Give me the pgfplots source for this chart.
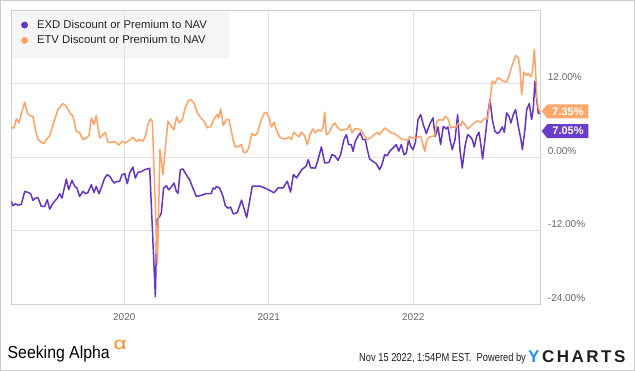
\documentclass[border=0pt]{standalone}
\usepackage{fontspec}
\setmainfont{Liberation Sans}
\usepackage{pgfplots}
\pgfplotsset{compat=1.18}
\definecolor{exd}{HTML}{6234C7}
\definecolor{etv}{HTML}{FFA263}
\definecolor{exdtag}{HTML}{6A3DCB}
\definecolor{etvtag}{HTML}{FFA86B}
\definecolor{gridc}{HTML}{E3E3E3}
\definecolor{tickc}{HTML}{666666}
\definecolor{legbg}{HTML}{F5F5F5}
\definecolor{ychblue}{HTML}{1F8FFF}
\definecolor{saorange}{HTML}{FF8A1A}

\pgfplotstableread{
x y
2019.218 -7.26
2019.230 -7.96
2019.246 -7.64
2019.264 -7.85
2019.287 -7.75
2019.311 -5.62
2019.334 -5.78
2019.352 -6.00
2019.368 -7.09
2019.384 -6.71
2019.403 -6.66
2019.426 -8.07
2019.449 -8.07
2019.467 -6.98
2019.484 -8.51
2019.507 -7.53
2019.537 -6.71
2019.553 -6.00
2019.569 -6.71
2019.599 -3.60
2019.615 -5.35
2019.638 -3.82
2019.657 -4.80
2019.673 -5.07
2019.691 -6.44
2019.714 -5.62
2019.733 -6.00
2019.749 -5.78
2019.772 -4.53
2019.790 -5.78
2019.806 -4.80
2019.825 -6.00
2019.848 -4.53
2019.864 -3.44
2019.883 -2.89
2019.899 -3.16
2019.929 -4.25
2019.952 -3.98
2019.968 -3.98
2019.984 -2.89
2020.003 -2.73
2020.021 -4.36
2020.037 -2.62
2020.060 -1.64
2020.076 -3.44
2020.095 -2.51
2020.118 -2.40
2020.141 -2.07
2020.159 -1.96
2020.176 -1.85
2020.215 -22.80
2020.226 -10.26
2020.245 -9.71
2020.256 -9.16
2020.272 -5.07
2020.291 -4.69
2020.307 -5.35
2020.325 -4.91
2020.344 -4.25
2020.360 -5.62
2020.372 -5.89
2020.388 -2.07
2020.406 -1.96
2020.429 -2.89
2020.452 -3.71
2020.475 -5.07
2020.498 -6.44
2020.522 -6.33
2020.545 -6.16
2020.563 -6.00
2020.579 -6.00
2020.602 -6.00
2020.614 -5.07
2020.625 -5.24
2020.639 -4.80
2020.660 -5.07
2020.683 -6.44
2020.699 -7.96
2020.718 -8.35
2020.736 -8.18
2020.754 -9.30
2020.782 -9.08
2020.812 -7.03
2020.847 -9.90
2020.886 -4.76
2020.939 -4.76
2020.985 -5.19
2021.036 -5.84
2021.066 -5.03
2021.100 -5.03
2021.128 -3.95
2021.151 -5.73
2021.170 -2.87
2021.193 -3.41
2021.228 -2.06
2021.258 -1.52
2021.273 -0.44
2021.290 -1.79
2021.322 -1.80
2021.340 -0.55
2021.364 1.64
2021.387 -0.98
2021.417 -0.87
2021.437 0.38
2021.456 0.22
2021.479 -0.55
2021.497 0.38
2021.520 2.84
2021.537 3.65
2021.553 2.02
2021.571 2.02
2021.583 0.93
2021.599 2.56
2021.617 3.38
2021.633 3.93
2021.652 2.84
2021.668 2.84
2021.682 1.20
2021.698 -0.33
2021.721 -0.71
2021.744 -1.09
2021.767 -2.07
2021.783 -1.25
2021.802 0.38
2021.820 0.22
2021.837 0.93
2021.860 1.47
2021.883 2.02
2021.899 0.93
2021.917 2.02
2021.936 0.38
2021.952 0.65
2021.968 2.84
2021.982 1.75
2021.998 1.20
2022.014 2.29
2022.033 6.11
2022.051 6.93
2022.069 5.29
2022.090 3.82
2022.113 5.29
2022.136 6.38
2022.152 3.38
2022.171 4.91
2022.189 2.02
2022.208 5.02
2022.229 4.58
2022.240 4.91
2022.254 2.84
2022.270 1.20
2022.289 2.84
2022.307 6.93
2022.323 1.20
2022.339 -1.80
2022.358 1.75
2022.376 3.65
2022.392 3.38
2022.409 2.84
2022.422 1.64
2022.439 3.38
2022.455 4.04
2022.469 1.75
2022.480 -0.33
2022.496 2.84
2022.515 6.93
2022.531 9.38
2022.547 6.11
2022.565 4.20
2022.584 3.82
2022.600 4.20
2022.616 4.91
2022.630 4.04
2022.646 7.20
2022.662 6.65
2022.676 5.56
2022.692 6.93
2022.708 7.75
2022.727 5.02
2022.745 2.84
2022.755 1.20
2022.773 4.58
2022.785 7.75
2022.803 8.73
2022.819 6.11
2022.831 8.02
2022.842 12.38
2022.854 9.38
2022.865 7.20
2022.877 7.05
}\exdtable

\pgfplotstableread{
x y
2019.218 4.75
2019.237 4.75
2019.253 6.22
2019.271 5.56
2019.292 7.47
2019.311 8.95
2019.329 7.20
2019.345 6.76
2019.368 6.65
2019.387 4.20
2019.403 2.84
2019.426 2.40
2019.444 2.18
2019.460 2.84
2019.484 3.49
2019.507 5.29
2019.541 7.75
2019.576 8.73
2019.599 8.29
2019.622 7.20
2019.645 6.65
2019.668 4.20
2019.691 3.93
2019.714 2.84
2019.737 3.11
2019.756 3.49
2019.772 6.38
2019.790 5.29
2019.806 6.76
2019.830 3.11
2019.853 3.65
2019.869 4.04
2019.887 2.40
2019.910 2.40
2019.934 2.51
2019.963 1.96
2019.986 2.56
2020.003 2.29
2020.026 2.56
2020.060 3.22
2020.083 2.56
2020.106 2.84
2020.129 2.56
2020.146 3.38
2020.164 5.29
2020.180 6.22
2020.194 5.84
2020.229 -17.46
2020.238 -8.62
2020.247 1.20
2020.256 -0.44
2020.268 -2.89
2020.279 0.11
2020.302 5.84
2020.325 5.02
2020.344 4.47
2020.362 6.55
2020.379 5.56
2020.402 6.11
2020.418 7.75
2020.441 9.11
2020.459 9.38
2020.482 8.84
2020.505 7.20
2020.529 6.38
2020.552 5.84
2020.575 4.75
2020.598 5.02
2020.625 6.38
2020.644 6.93
2020.653 6.38
2020.667 7.86
2020.685 5.13
2020.706 6.11
2020.725 6.11
2020.752 2.90
2020.768 1.64
2020.787 1.64
2020.810 2.02
2020.826 0.76
2020.845 0.76
2020.861 1.47
2020.884 3.82
2020.902 3.49
2020.921 3.93
2020.944 5.84
2020.967 7.09
2020.983 7.31
2020.999 6.65
2021.018 4.91
2021.036 5.67
2021.052 4.47
2021.075 3.27
2021.098 2.95
2021.121 2.95
2021.138 3.27
2021.156 2.84
2021.172 4.04
2021.191 3.65
2021.209 3.27
2021.225 4.04
2021.248 3.49
2021.267 2.02
2021.285 3.65
2021.306 4.58
2021.322 3.93
2021.340 4.47
2021.359 4.20
2021.375 4.75
2021.387 7.31
2021.398 3.65
2021.417 3.93
2021.437 5.02
2021.456 5.56
2021.479 4.75
2021.502 4.31
2021.520 4.47
2021.543 4.58
2021.560 5.29
2021.576 3.93
2021.594 4.58
2021.617 4.58
2021.640 4.36
2021.663 3.38
2021.682 2.84
2021.705 3.11
2021.728 3.65
2021.751 4.04
2021.767 3.65
2021.783 4.20
2021.802 4.75
2021.825 4.36
2021.848 3.93
2021.871 3.82
2021.894 3.38
2021.917 2.95
2021.940 2.84
2021.963 2.73
2021.975 3.38
2021.991 3.11
2022.014 3.11
2022.033 3.27
2022.051 3.38
2022.067 2.02
2022.079 0.93
2022.095 2.84
2022.113 3.27
2022.132 3.38
2022.148 3.49
2022.164 5.84
2022.182 6.11
2022.206 6.00
2022.222 6.65
2022.240 6.22
2022.261 4.75
2022.277 4.91
2022.293 4.75
2022.312 5.56
2022.330 5.13
2022.339 5.84
2022.358 5.29
2022.376 4.58
2022.392 4.91
2022.409 5.29
2022.427 5.67
2022.445 5.89
2022.469 5.67
2022.485 6.11
2022.501 6.38
2022.515 6.22
2022.531 9.11
2022.547 12.38
2022.565 12.00
2022.584 12.93
2022.600 12.76
2022.623 12.38
2022.646 12.22
2022.662 13.20
2022.681 14.73
2022.699 15.93
2022.708 16.58
2022.727 16.20
2022.738 14.56
2022.750 10.20
2022.766 13.86
2022.785 13.31
2022.796 13.64
2022.815 13.09
2022.824 13.86
2022.838 17.56
2022.847 13.75
2022.856 9.66
2022.865 8.02
2022.877 7.35
}\etvtable

\begin{document}
\begin{tikzpicture}[x=1pt,y=1pt]
\fill[white] (0,0) rectangle (635,371);
\draw[black!20, line width=1pt] (0.5,0.5) rectangle (634.5,370.5);
\fill[legbg] (11,361) rectangle (229,313);
\begin{axis}[
  at={(11pt,67pt)}, anchor=south west,
  scale only axis, width=529pt, height=294pt,
  xmin=2019.216, xmax=2022.877, ymin=-24, ymax=24,
  xtick={2020,2021,2022}, xticklabels={2020,2021,2022},
  ytick={-24,-12,0,12}, yticklabels={-24.00\%,-12.00\%,0.00\%,12.00\%},
  yticklabel pos=right,
  grid=major, major grid style={draw=gridc, line width=0.8pt},
  axis line style={draw=black!18, line width=0.8pt},
  tick style={draw=none},
  ticklabel style={font=\fontsize{10}{12}\selectfont, text=tickc},
  yticklabel style={anchor=west, xshift=4.4pt, yshift=6pt},
  xticklabel style={yshift=-5.5pt},
  clip=false,
  legend style={at={(0,1)}, anchor=north west, draw=none, fill=none,
    font=\fontsize{11.3}{13}\selectfont, text=black!85,
    inner xsep=10pt, inner ysep=8pt, row sep=1.7pt,
    /tikz/every even column/.append style={column sep=0pt},
    /tikz/every odd column/.append style={column sep=7pt}},
  legend cell align=left,
]
\addlegendimage{legend image code/.code={\fill[exd] (3pt,0pt) circle (3.2pt);}}
\addlegendentry{EXD Discount or Premium to NAV}
\addlegendimage{legend image code/.code={\fill[etv] (3pt,0pt) circle (3.2pt);}}
\addlegendentry{ETV Discount or Premium to NAV}
\addplot[exd, line width=1.5pt, line join=round, forget plot] table[x=x,y=y] {\exdtable};
\addplot[etv, line width=1.5pt, line join=round, forget plot] table[x=x,y=y] {\etvtable};
\coordinate (tagE) at (axis cs:2022.877,7.46);
\coordinate (tagX) at (axis cs:2022.877,4.22);
\end{axis}
\fill[etvtag] ([xshift=1.7pt]tagE) -- ++(5.6,7) -- ++(41,0) -- ++(0,-14) -- ++(-41,0) -- cycle;
\node[white, font=\bfseries\fontsize{11}{13}\selectfont, inner sep=0] at ([xshift=28pt]tagE) {7.35\%};
\fill[exdtag] ([xshift=1.7pt]tagX) -- ++(5.6,7) -- ++(41,0) -- ++(0,-14) -- ++(-41,0) -- cycle;
\node[white, font=\bfseries\fontsize{11}{13}\selectfont, inner sep=0] at ([xshift=28pt]tagX) {7.05\%};
% footer
\node[anchor=base west, inner sep=0] at (7.5,12) {\resizebox{102pt}{12.6pt}{Seeking Alpha}};
\node[anchor=base west, inner sep=0, text=saorange] at (113.5,21.5) {\scalebox{1.5}[1.15]{\fontsize{15}{15}\selectfont α}};
\node[anchor=base west, inner sep=0, text=black!88] at (359,9.3) {\scalebox{0.81}[1]{\fontsize{11.5}{13}\selectfont Nov 15 2022, 1:54PM EST.\ \ Powered by}};
\node[anchor=base west, inner sep=0] at (528,8) {\fontsize{17}{17}\selectfont\bfseries\textcolor{ychblue}{Y}\kern2.5pt\textcolor{black!88}{C\kern2.5pt H\kern2.5pt A\kern2.5pt R\kern2.5pt T\kern2.5pt S}};
\end{tikzpicture}
\end{document}
